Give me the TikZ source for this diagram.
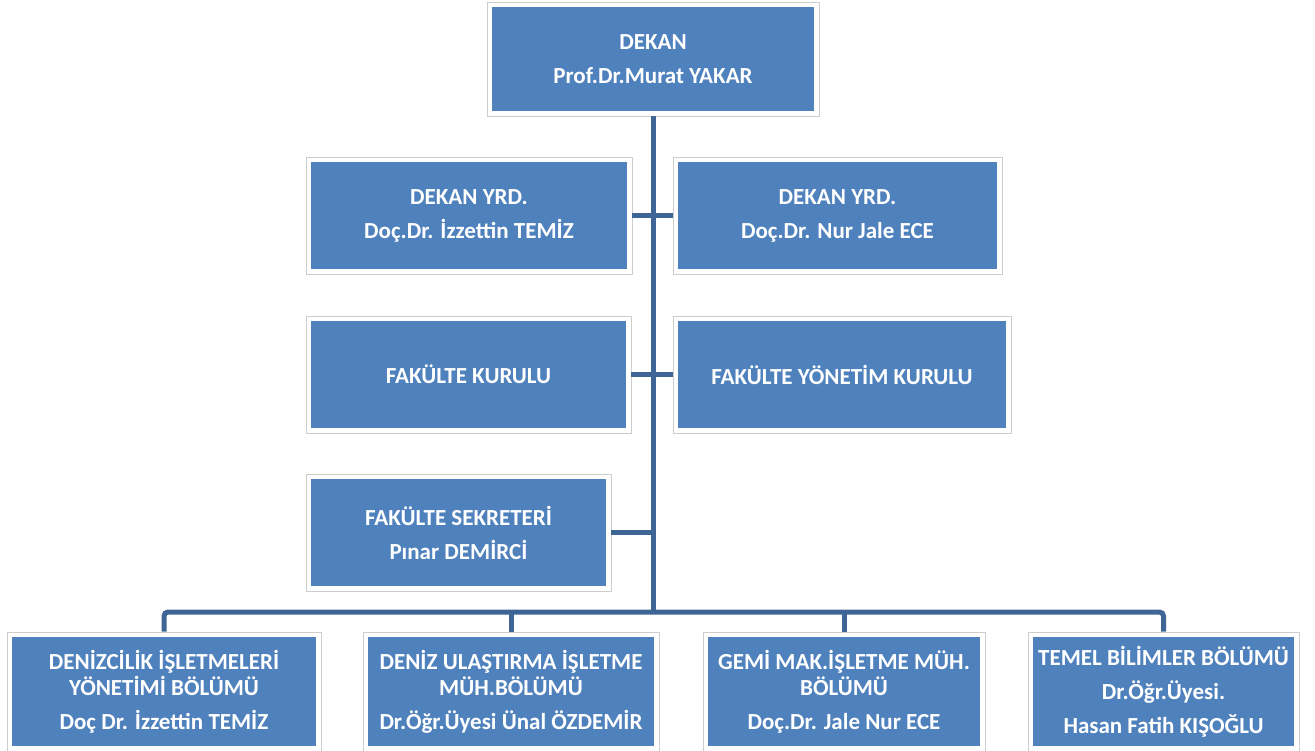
\documentclass[tikz,border=0pt]{standalone}
\usepackage{fontspec}
\setmainfont{Carlito}
\definecolor{boxblue}{RGB}{79,129,189}
\definecolor{linecol}{RGB}{62,101,149}
\definecolor{framegray}{RGB}{205,205,205}
\tikzset{
  orgbox/.style={fill=white, draw=framegray, line width=0.9pt, inner sep=0pt,
    align=center, text=white, font=\fontsize{23}{34}\selectfont\bfseries,
    path picture={\fill[boxblue]
      ([shift={(4.6pt,4.6pt)}]path picture bounding box.south west) rectangle
      ([shift={(-4.6pt,-4.6pt)}]path picture bounding box.north east);}},
  conn/.style={draw=linecol, line width=5pt}
}
\begin{document}
\begin{tikzpicture}[x=1pt,y=-1pt]
\useasboundingbox (0,0) rectangle (1315,751);
% boxes
\node[orgbox, minimum width=332pt, minimum height=114pt] (dekan) at (653,59)
  {DEKAN\\Prof.Dr.Murat YAKAR};
\node[orgbox, minimum width=326pt, minimum height=117pt] (yrdL) at (469,215.5)
  {DEKAN YRD.\\Doç.Dr. İzzettin TEMİZ};
\node[orgbox, minimum width=329pt, minimum height=117pt] (yrdR) at (837.5,215.5)
  {DEKAN YRD.\\Doç.Dr. Nur Jale ECE};
\node[orgbox, minimum width=325pt, minimum height=117pt] (fk) at (468.5,374.5)
  {FAKÜLTE KURULU};
\node[orgbox, minimum width=338pt, minimum height=117pt] (fyk) at (842,374.5)
  {FAKÜLTE YÖNETİM KURULU};
\node[orgbox, minimum width=305pt, minimum height=117pt] (fs) at (458.5,532.5)
  {FAKÜLTE SEKRETERİ\\Pınar DEMİRCİ};
\node[orgbox, minimum width=314pt, minimum height=119pt] (d1) at (164,691.5)
  {DENİZCİLİK İŞLETMELERİ\\[-8pt]YÖNETİMİ BÖLÜMÜ\\Doç Dr. İzzettin TEMİZ};
\node[orgbox, minimum width=296pt, minimum height=119pt] (d2) at (511,691.5)
  {DENİZ ULAŞTIRMA İŞLETME\\[-8pt]MÜH.BÖLÜMÜ\\Dr.Öğr.Üyesi Ünal ÖZDEMİR};
\node[orgbox, minimum width=282pt, minimum height=119pt] (d3) at (844,691.5)
  {GEMİ MAK.İŞLETME MÜH.\\[-8pt]BÖLÜMÜ\\Doç.Dr. Jale Nur ECE};
\node[orgbox, minimum width=271pt, minimum height=119pt] (d4) at (1163.5,691.5)
  {TEMEL BİLİMLER BÖLÜMÜ\\Dr.Öğr.Üyesi.\\Hasan Fatih KIŞOĞLU};
% connectors
\coordinate (bus) at (653,612);
\draw[conn] (dekan.south) -- (bus);
\draw[conn] (yrdL.east) -- (yrdR.west);
\draw[conn] (fk.east) -- (fyk.west);
\draw[conn] (fs.east) -- (fs.east -| bus);
\draw[conn, rounded corners=4pt] (d1.north) |- (bus) -| (d4.north);
\draw[conn] (d2.north) -- (d2.north |- bus);
\draw[conn] (d3.north) -- (d3.north |- bus);
\end{tikzpicture}
\end{document}
